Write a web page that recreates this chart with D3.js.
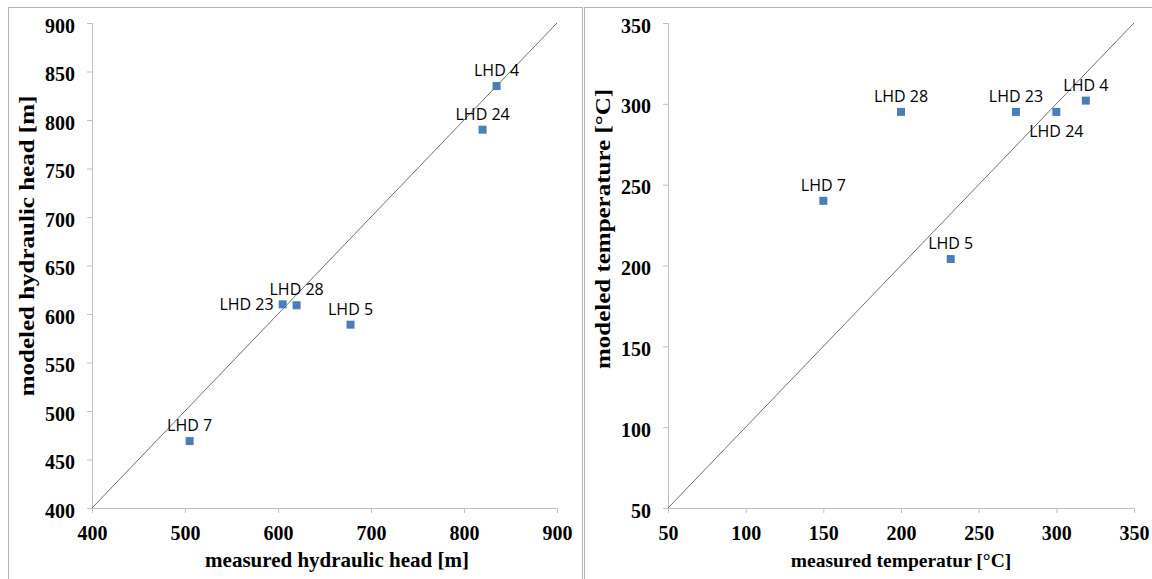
<!DOCTYPE html>
<html>
<head>
<meta charset="utf-8">
<script src="https://cdn.jsdelivr.net/npm/d3@7"></script>
<style>
  body { margin: 0; background: #fff; }
  .tick text { font-family: "Liberation Serif", "Times New Roman", serif; font-weight: bold; font-size: 20px; fill: #000; }
  .title { font-family: "Liberation Serif", "Times New Roman", serif; font-weight: bold; fill: #000; }
  .lbl { font-family: "Open Sans", "Noto Sans", sans-serif; font-size: 16px; fill: #000; }
</style>
</head>
<body>
<div id="chart"></div>
<script>
// well names
const wells = ["LHD 4", "LHD 24", "LHD 28", "LHD 23", "LHD 5", "LHD 7"];

// hydraulic head [m]
const headMeasured = [835, 820, 620, 605, 678, 505];
const headModeled  = [835, 790, 609, 610, 589, 469];

// temperature [°C]
const tempMeasured = [319, 300, 200, 274, 232, 150];
const tempModeled  = [302, 295, 295, 295, 204, 240];

// where each label sits relative to its point
const headLabelPos = ["above", "above", "above", "left", "above", "above"];
const tempLabelPos = ["above", "below", "above", "above", "above", "above"];

const headXTicks = [400, 500, 600, 700, 800, 900];
const headYTicks = [400, 450, 500, 550, 600, 650, 700, 750, 800, 850, 900];
const tempTicks = [50, 100, 150, 200, 250, 300, 350];

const width = 1152, height = 579;

const svg = d3.select("#chart")
  .append("svg")
  .attr("width", width)
  .attr("height", height);

// panel frames
svg.append("rect").attr("x", 8.5).attr("y", 7.5).attr("width", 574).attr("height", 600)
  .attr("fill", "none").attr("stroke", "#b4b4b4");
svg.append("rect").attr("x", 584.5).attr("y", 7.5).attr("width", 600).attr("height", 600)
  .attr("fill", "none").attr("stroke", "#b4b4b4");

function drawPanel(opt) {
  const x = d3.scaleLinear().domain(opt.domain).range([opt.left, opt.right]);
  const y = d3.scaleLinear().domain(opt.domain).range([opt.bottom, opt.top]);
  const g = svg.append("g");

  // x axis
  const xa = g.append("g")
    .attr("transform", `translate(0,${opt.bottom})`)
    .call(d3.axisBottom(x).tickValues(opt.xTicks).tickSize(5).tickPadding(13).tickFormat(d3.format("d")));
  // y axis
  const ya = g.append("g")
    .attr("transform", `translate(${opt.left},0)`)
    .call(d3.axisLeft(y).tickValues(opt.yTicks).tickSize(5).tickPadding(12).tickFormat(d3.format("d")));
  [xa, ya].forEach(a => {
    a.select(".domain").attr("stroke", "#bfbfbf");
    a.selectAll(".tick line").attr("stroke", "#bfbfbf");
  });
  ya.selectAll(".tick text").attr("dy", "0.45em");

  // 1:1 line
  g.append("line")
    .attr("x1", x(opt.domain[0])).attr("y1", y(opt.domain[0]))
    .attr("x2", x(opt.domain[1])).attr("y2", y(opt.domain[1]))
    .attr("stroke", "#6e6e6e").attr("stroke-width", 1);

  // points
  const pts = opt.names.map((n, i) => ({ name: n, mx: opt.mx[i], my: opt.my[i], pos: opt.pos[i] }));
  g.selectAll("rect.pt")
    .data(pts)
    .enter()
    .append("rect")
    .attr("class", "pt")
    .attr("x", d => x(d.mx) - 4)
    .attr("y", d => y(d.my) - 4)
    .attr("width", 8)
    .attr("height", 8)
    .attr("fill", "#4a7ebb");

  g.selectAll("text.lbl")
    .data(pts)
    .enter()
    .append("text")
    .attr("class", "lbl")
    .attr("x", d => d.pos === "left" ? x(d.mx) - 9 : x(d.mx))
    .attr("y", d => d.pos === "below" ? y(d.my) + 25 : d.pos === "left" ? y(d.my) + 6 : y(d.my) - 10)
    .attr("text-anchor", d => d.pos === "left" ? "end" : "middle")
    .text(d => d.name);

  // axis titles
  g.append("text").attr("class", "title")
    .attr("x", opt.xTitleX).attr("y", 567)
    .attr("text-anchor", "middle")
    .style("font-size", opt.xTitleSize + "px")
    .text(opt.xTitle);
  // y title is stretched along its length, as in the original figure
  g.append("text").attr("class", "title")
    .attr("transform", `translate(${opt.yTitleX},${opt.yTitleY}) rotate(-90) scale(1.25,1)`)
    .attr("text-anchor", "middle")
    .style("font-size", "20px")
    .text(opt.yTitle);
}

drawPanel({
  domain: [400, 900], left: 92, right: 557, top: 23, bottom: 508,
  xTicks: headXTicks, yTicks: headYTicks,
  names: wells, mx: headMeasured, my: headModeled, pos: headLabelPos,
  xTitle: "measured hydraulic head [m]", xTitleX: 337, xTitleSize: 21,
  yTitle: "modeled hydraulic head [m]", yTitleX: 34, yTitleY: 246
});

drawPanel({
  domain: [50, 350], left: 668, right: 1134, top: 23, bottom: 508,
  xTicks: tempTicks, yTicks: tempTicks,
  names: wells, mx: tempMeasured, my: tempModeled, pos: tempLabelPos,
  xTitle: "measured temperatur [°C]", xTitleX: 901, xTitleSize: 19.5,
  yTitle: "modeled temperature [°C]", yTitleX: 610, yTitleY: 229
});
</script>
</body>
</html>
